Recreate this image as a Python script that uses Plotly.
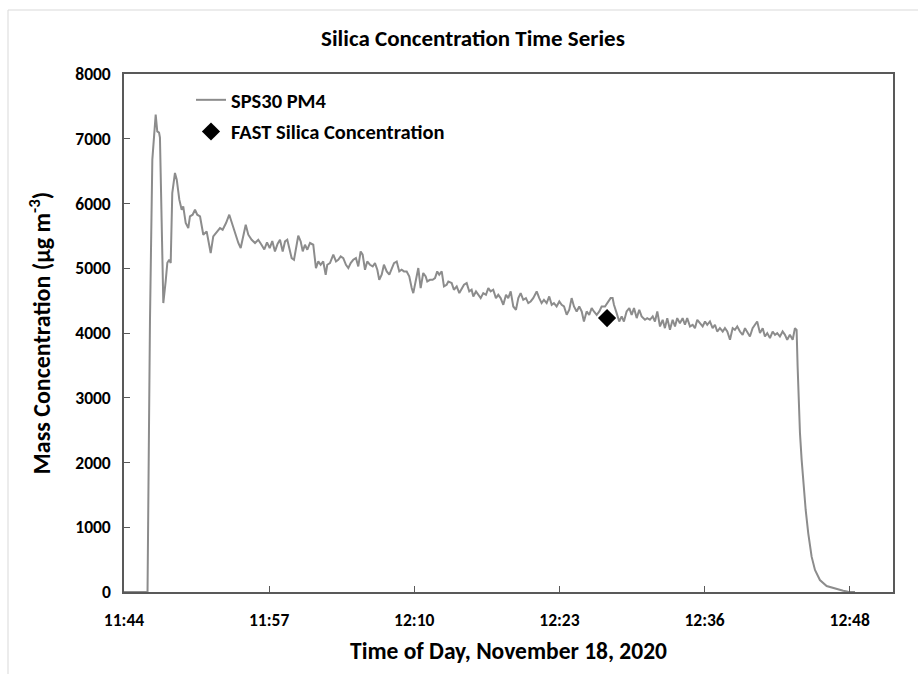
import pandas as pd
import plotly.graph_objects as go

# ---- data ----
start_time = "2020-11-18 11:44:11"
sps30_minutes = [
    0.00, 2.10, 2.23, 2.32, 2.53, 2.83, 2.97, 3.13, 3.21, 3.51, 3.72, 3.87, 4.04, 4.17,
    4.31, 4.55, 4.71, 4.94, 5.15, 5.29, 5.51, 5.74, 5.89, 6.13, 6.34, 6.54, 6.79, 7.08,
    7.38, 7.74, 7.97, 8.33, 8.57, 8.81, 9.11, 9.40, 9.62, 9.91, 10.21, 10.42, 10.87,
    11.10, 11.40, 11.70, 11.99, 12.29, 12.53, 12.77, 13.01, 13.24, 13.48, 13.72, 13.93,
    14.17, 14.38, 14.58, 14.76, 14.97, 15.18, 15.36, 15.56, 15.78, 15.96, 16.16, 16.37,
    16.61, 16.90, 17.14, 17.35, 17.56, 17.79, 18.01, 18.15, 18.39, 18.69, 18.93, 19.13,
    19.35, 19.58, 19.82, 20.03, 20.24, 20.47, 20.71, 20.92, 21.13, 21.31, 21.52, 21.72,
    21.96, 22.21, 22.41, 22.62, 22.79, 23.01, 23.21, 23.46, 23.69, 23.90, 24.11, 24.35,
    24.58, 24.79, 25.00, 25.24, 25.47, 25.69, 25.83, 26.07, 26.28, 26.49, 26.72, 26.94,
    27.08, 27.32, 27.56, 27.77, 27.97, 28.15, 28.37, 28.57, 28.81, 28.96, 29.26, 29.46,
    29.71, 29.94, 30.15, 30.36, 30.60, 30.83, 31.04, 31.19, 31.43, 31.63, 31.85, 32.08,
    32.32, 32.53, 32.74, 32.97, 33.21, 33.42, 33.63, 33.87, 34.11, 34.31, 34.53, 34.76,
    35.00, 35.21, 35.42, 35.65, 35.89, 36.10, 36.31, 36.54, 36.85, 37.08, 37.29, 37.50,
    37.74, 37.97, 38.19, 38.39, 38.63, 38.87, 39.08, 39.29, 39.53, 39.76, 39.97, 40.18,
    40.42, 40.65, 40.87, 41.07, 41.31, 41.54, 41.76, 41.96, 42.21, 42.44, 42.65, 42.95,
    43.24, 43.45, 43.63, 43.75, 43.99, 44.22, 44.44, 44.64, 44.88, 45.12, 45.33, 45.54,
    45.78, 46.01, 46.22, 46.52, 46.72, 46.96, 47.21, 47.41, 47.62, 47.86, 48.10, 48.30,
    48.51, 48.75, 48.99, 49.20, 49.40, 49.64, 49.88, 50.09, 50.29, 50.54, 50.78, 50.98,
    51.19, 51.43, 51.67, 51.88, 52.08, 52.32, 52.56, 52.77, 52.97, 53.21, 53.46, 53.66,
    53.87, 54.11, 54.35, 54.55, 54.76, 55.00, 55.24, 55.45, 55.65, 55.89, 56.13, 56.34,
    56.54, 56.79, 57.03, 57.23, 57.44, 57.68, 57.92, 58.13, 58.33, 58.57, 58.81, 59.02,
    59.22, 59.46, 59.71, 59.91, 60.06, 60.15, 60.24, 60.36, 60.51, 60.66, 60.87, 61.10,
    61.40, 61.70, 62.14, 62.74, 63.48, 64.22, 64.66, 65.27,
]
sps30_pm4 = [
    0, 0, 2500, 4200, 6677, 7372, 7114, 7094, 7017, 4462, 4796, 5085, 5131, 5080,
    6162, 6471, 6368, 6059, 5904, 5955, 5698, 5621, 5800, 5827, 5904, 5827, 5800, 5518,
    5569, 5235, 5491, 5569, 5621, 5595, 5698, 5827, 5698, 5544, 5390, 5312, 5672,
    5518, 5440, 5390, 5440, 5360, 5290, 5400, 5310, 5420, 5260, 5380, 5440,
    5260, 5414, 5440, 5312, 5157, 5131, 5337, 5502, 5414, 5260, 5363, 5286,
    5390, 5363, 5003, 5105, 5054, 5105, 4900, 5054, 5080, 5209, 5105, 5131,
    5183, 5157, 5054, 5003, 5080, 5131, 5157, 5028, 5260, 5209, 4977, 5105,
    5054, 5028, 5080, 4977, 4822, 4900, 5054, 4951, 4900, 4977, 5080, 5105,
    4951, 4977, 4951, 4951, 4874, 4694, 4616, 4822, 5003, 4694, 4926, 4874,
    4796, 4822, 4822, 4848, 4951, 4900, 4951, 4719, 4745, 4796, 4771, 4668,
    4719, 4616, 4694, 4745, 4771, 4642, 4668, 4564, 4642, 4590, 4539, 4616,
    4590, 4694, 4642, 4668, 4539, 4590, 4539, 4436, 4590, 4539, 4642, 4410,
    4359, 4539, 4616, 4513, 4539, 4462, 4487, 4539, 4642, 4539, 4462, 4513,
    4462, 4564, 4436, 4462, 4410, 4487, 4436, 4410, 4281, 4359, 4539, 4410,
    4333, 4410, 4333, 4178, 4333, 4281, 4385, 4333, 4281, 4333, 4410, 4410,
    4480, 4539, 4539, 4436, 4307, 4178, 4256, 4178, 4333, 4385, 4281, 4385,
    4230, 4359, 4256, 4204, 4230, 4204, 4256, 4178, 4333, 4101, 4204, 4075,
    4230, 4049, 4204, 4101, 4230, 4152, 4230, 4127, 4230, 4101, 4127, 4075,
    4204, 4152, 4101, 4178, 4127, 4178, 4075, 4127, 4023, 4075, 4023, 4075,
    4023, 3895, 4075, 4049, 4101, 4023, 3972, 4075, 4023, 3946, 4075, 4127,
    4178, 3998, 4075, 3946, 3998, 3921, 4023, 3972, 3998, 3946, 4023, 3972,
    3895, 3972, 3895, 4075, 4049, 3482, 2967, 2453, 2040, 1680, 1267, 907,
    546, 340, 185, 93, 51, 20, 5, 0,
]
fast_time = ["2020-11-18 12:27:19"]
fast_silica = [4230]

tick_times = ["2020-11-18 11:44:11", "2020-11-18 11:57:08.6", "2020-11-18 12:10:06.2",
              "2020-11-18 12:23:03.8", "2020-11-18 12:36:01.4", "2020-11-18 12:48:59"]
tick_labels = ["11:44", "11:57", "12:10", "12:23", "12:36", "12:48"]
x_range = ["2020-11-18 11:44:11", "2020-11-18 12:52:51"]

sps30_time = pd.Timestamp(start_time) + pd.to_timedelta(sps30_minutes, unit="m")

FONT = "Carlito, Calibri, 'Liberation Sans Narrow', 'Open Sans', sans-serif"
AX = "#595959"

fig = go.Figure()
fig.add_trace(go.Scatter(
    x=sps30_time, y=sps30_pm4, mode="lines", name="<b>SPS30 PM4</b>",
    line=dict(color="#8c8c8c", width=2), legendgroup="a"))
fig.add_trace(go.Scatter(
    x=pd.to_datetime(fast_time), y=fast_silica, mode="markers",
    name="<b>FAST Silica Concentration</b>",
    marker=dict(symbol="diamond", color="black", size=14), legendgroup="b"))

L, R, T, B = 124, 25, 74, 82
W = 918 - L - R
H = 674 - T - B

def px(xp):
    return (xp - L) / W

def py(yp):
    return (674 - B - yp) / H

fig.update_layout(
    width=918, height=674,
    margin=dict(l=L, r=R, t=T, b=B),
    paper_bgcolor="white", plot_bgcolor="white",
    font=dict(family=FONT, color="black", size=16),
    title=dict(text="<b>Silica Concentration Time Series</b>", x=473 / 918, xanchor="center",
               y=1 - 38 / 674, yanchor="middle", font=dict(size=23, family=FONT, color="black")),
    showlegend=True,
    legend=dict(x=px(191), y=py(80), xanchor="left", yanchor="top",
                bgcolor="rgba(0,0,0,0)", font=dict(size=20.5, family=FONT, color="black"),
                tracegroupgap=2, traceorder="grouped"),
    xaxis=dict(
        type="date", range=x_range, tickvals=tick_times, ticktext=tick_labels,
        showgrid=False, zeroline=False, showline=True, mirror=True,
        linecolor=AX, linewidth=1.5, ticks="inside", ticklen=6, tickcolor=AX,
        tickfont=dict(size=17.5, family=FONT, color="black", weight="bold"), ticklabelstandoff=11,
        title=dict(text="<b>Time of Day, November 18, 2020</b>", standoff=13,
                   font=dict(size=23.5, family=FONT, color="black")),
    ),
    yaxis=dict(
        range=[0, 8000], dtick=1000, tick0=0,
        showgrid=False, zeroline=False, showline=True, mirror=True,
        linecolor=AX, linewidth=1.5, ticks="inside", ticklen=6, tickcolor=AX,
        tickfont=dict(size=17.5, family=FONT, color="black", weight="bold"), ticklabelstandoff=8,
        title=dict(text="<b>Mass Concentration (µg m<sup>-3</sup>)</b>", standoff=18,
                   font=dict(size=24, family=FONT, color="black")),
    ),
    shapes=[
        dict(type="line", xref="paper", yref="paper", x0=px(8), x1=px(930), y0=py(10), y1=py(10),
             line=dict(color="#d9d9d9", width=1)),
        dict(type="line", xref="paper", yref="paper", x0=px(8), x1=px(8), y0=py(10), y1=py(700),
             line=dict(color="#d9d9d9", width=1)),
    ],
)

fig.write_html("out.html")
